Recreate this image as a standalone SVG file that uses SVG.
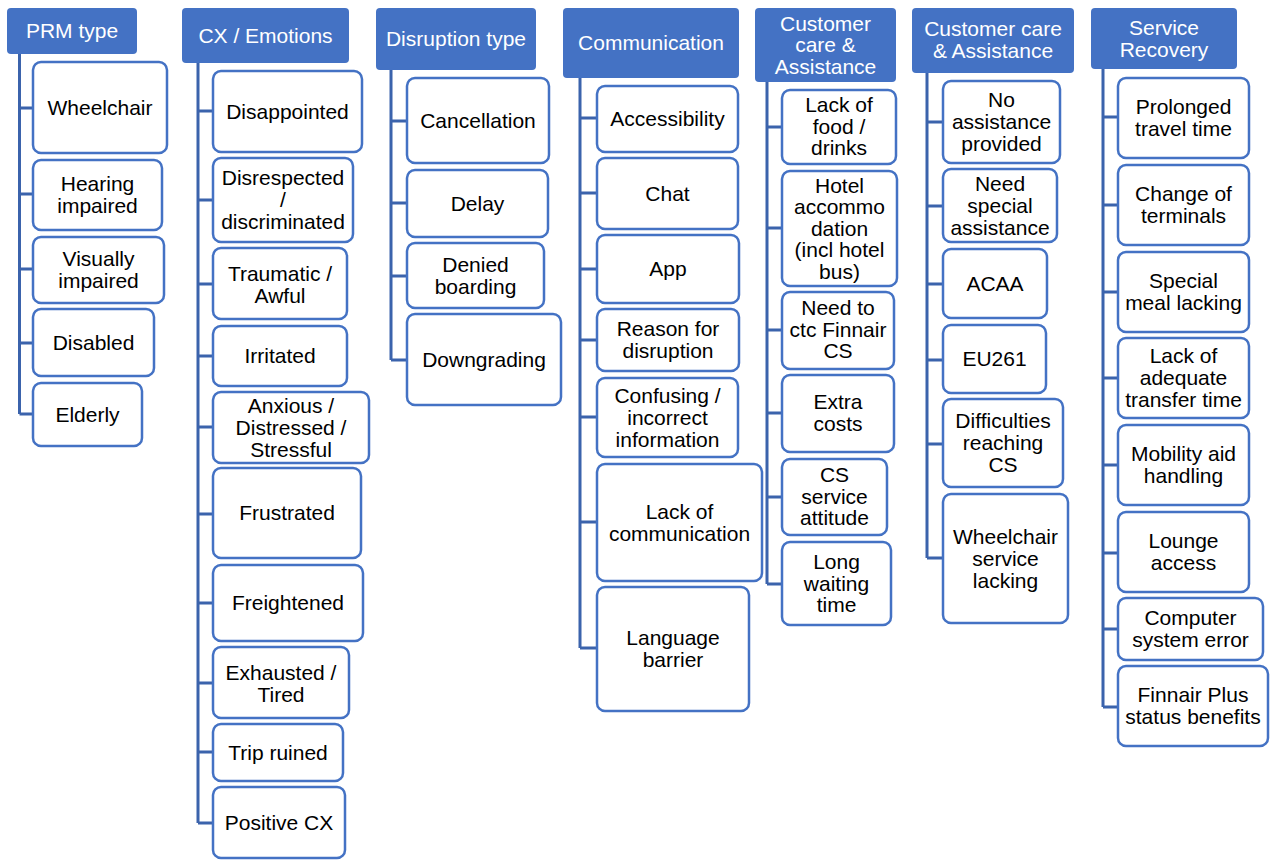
<svg xmlns="http://www.w3.org/2000/svg" width="1271" height="860" viewBox="0 0 1271 860">
<style>
.hd{fill:#4472C4;stroke:none}
.bx{fill:#fff;stroke:#4472C4;stroke-width:2.5}
.ht{fill:#fff;font-family:"Liberation Sans",Arial,sans-serif;font-size:21px;text-anchor:middle}
.t{fill:#000;font-family:"Liberation Sans",Arial,sans-serif;font-size:21px;text-anchor:middle}
.c{fill:none;stroke:#3B63AC;stroke-width:3}
</style>
<rect width="1271" height="860" fill="#fff"/>
<g id="connectors">
<path class="c" d="M19.5,54V414M19.5,108H33M19.5,194H33M19.5,269H33M19.5,343H33M19.5,414H33"/>
<path class="c" d="M198,63V823M198,111H213M198,200H213M198,284H213M198,356H213M198,427H213M198,514H213M198,603H213M198,683H213M198,752H213M198,823H213"/>
<path class="c" d="M391,70V360M391,121H407M391,203H407M391,276H407M391,360H407"/>
<path class="c" d="M580,78V648M580,118H597M580,193H597M580,269H597M580,340H597M580,417H597M580,522H597M580,648H597"/>
<path class="c" d="M767,82V584M767,127H782M767,228H782M767,330H782M767,413H782M767,497H782M767,584H782"/>
<path class="c" d="M927,73V558M927,122H943M927,206H943M927,284H943M927,360H943M927,444H943M927,558H943"/>
<path class="c" d="M1103,69V707M1103,117H1118M1103,205H1118M1103,292H1118M1103,378H1118M1103,465H1118M1103,553H1118M1103,629H1118M1103,707H1118"/>
</g>
<!-- Column 1 -->
<g id="h-prm"><rect class="hd" x="7" y="8" width="130" height="46" rx="4"/><text class="ht" x="72" y="38">PRM type</text></g>
<g id="n-wheelchair"><rect class="bx" x="33" y="62" width="134" height="91" rx="8"/><text class="t" x="100" y="114.5">Wheelchair</text></g>
<g id="n-hearing"><rect class="bx" x="33" y="160" width="129" height="70" rx="8"/><text class="t" x="97.5"><tspan x="97.5" y="191">Hearing</tspan><tspan x="97.5" y="213">impaired</tspan></text></g>
<g id="n-visually"><rect class="bx" x="33" y="237" width="131" height="66" rx="8"/><text class="t" x="98.5"><tspan x="98.5" y="266">Visually</tspan><tspan x="98.5" y="288">impaired</tspan></text></g>
<g id="n-disabled"><rect class="bx" x="33" y="309" width="121" height="67" rx="8"/><text class="t" x="93.5" y="349.5">Disabled</text></g>
<g id="n-elderly"><rect class="bx" x="33" y="383" width="109" height="63" rx="8"/><text class="t" x="87.5" y="421.5">Elderly</text></g>
<!-- Column 2 -->
<g id="h-cx"><rect class="hd" x="182" y="8" width="167" height="55" rx="4"/><text class="ht" x="265.5" y="43">CX / Emotions</text></g>
<g id="n-disappointed"><rect class="bx" x="213" y="71" width="149" height="81" rx="8"/><text class="t" x="287.5" y="118.5">Disappointed</text></g>
<g id="n-disrespected"><rect class="bx" x="213" y="158" width="140" height="84" rx="8"/><text class="t" x="283"><tspan x="283" y="185">Disrespected</tspan><tspan x="283" y="207">/</tspan><tspan x="283" y="229">discriminated</tspan></text></g>
<g id="n-traumatic"><rect class="bx" x="213" y="248" width="134" height="71" rx="8"/><text class="t" x="280"><tspan x="280" y="280.5">Traumatic /</tspan><tspan x="280" y="302.5">Awful</tspan></text></g>
<g id="n-irritated"><rect class="bx" x="213" y="326" width="134" height="60" rx="8"/><text class="t" x="280" y="363">Irritated</text></g>
<g id="n-anxious"><rect class="bx" x="213" y="392" width="156" height="71" rx="8"/><text class="t" x="291"><tspan x="291" y="412.5">Anxious /</tspan><tspan x="291" y="434.5">Distressed /</tspan><tspan x="291" y="456.5">Stressful</tspan></text></g>
<g id="n-frustrated"><rect class="bx" x="213" y="468" width="148" height="90" rx="8"/><text class="t" x="287" y="520">Frustrated</text></g>
<g id="n-freightened"><rect class="bx" x="213" y="565" width="150" height="76" rx="8"/><text class="t" x="288" y="610">Freightened</text></g>
<g id="n-exhausted"><rect class="bx" x="213" y="647" width="136" height="71" rx="8"/><text class="t" x="281"><tspan x="281" y="679.5">Exhausted /</tspan><tspan x="281" y="701.5">Tired</tspan></text></g>
<g id="n-trip"><rect class="bx" x="213" y="724" width="130" height="57" rx="8"/><text class="t" x="278" y="759.5">Trip ruined</text></g>
<g id="n-positive"><rect class="bx" x="213" y="787" width="132" height="71" rx="8"/><text class="t" x="279" y="829.5">Positive CX</text></g>
<!-- Column 3 -->
<g id="h-disruption"><rect class="hd" x="376" y="8" width="160" height="62" rx="4"/><text class="ht" x="456" y="46">Disruption type</text></g>
<g id="n-cancellation"><rect class="bx" x="407" y="78" width="142" height="85" rx="8"/><text class="t" x="478" y="127.5">Cancellation</text></g>
<g id="n-delay"><rect class="bx" x="407" y="170" width="141" height="67" rx="8"/><text class="t" x="477.5" y="210.5">Delay</text></g>
<g id="n-denied"><rect class="bx" x="407" y="243" width="137" height="65" rx="8"/><text class="t" x="475.5"><tspan x="475.5" y="271.5">Denied</tspan><tspan x="475.5" y="293.5">boarding</tspan></text></g>
<g id="n-downgrading"><rect class="bx" x="407" y="314" width="154" height="91" rx="8"/><text class="t" x="484" y="366.5">Downgrading</text></g>
<!-- Column 4 -->
<g id="h-communication"><rect class="hd" x="563" y="8" width="176" height="70" rx="4"/><text class="ht" x="651" y="50">Communication</text></g>
<g id="n-accessibility"><rect class="bx" x="597" y="86" width="141" height="66" rx="8"/><text class="t" x="667.5" y="126">Accessibility</text></g>
<g id="n-chat"><rect class="bx" x="597" y="158" width="141" height="71" rx="8"/><text class="t" x="667.5" y="200.5">Chat</text></g>
<g id="n-app"><rect class="bx" x="597" y="235" width="142" height="68" rx="8"/><text class="t" x="668" y="276">App</text></g>
<g id="n-reason"><rect class="bx" x="597" y="309" width="142" height="62" rx="8"/><text class="t" x="668"><tspan x="668" y="336">Reason for</tspan><tspan x="668" y="358">disruption</tspan></text></g>
<g id="n-confusing"><rect class="bx" x="597" y="378" width="141" height="79" rx="8"/><text class="t" x="667.5"><tspan x="667.5" y="402.5">Confusing /</tspan><tspan x="667.5" y="424.5">incorrect</tspan><tspan x="667.5" y="446.5">information</tspan></text></g>
<g id="n-lackcomm"><rect class="bx" x="597" y="464" width="165" height="117" rx="8"/><text class="t" x="679.5"><tspan x="679.5" y="518.5">Lack of</tspan><tspan x="679.5" y="540.5">communication</tspan></text></g>
<g id="n-language"><rect class="bx" x="597" y="587" width="152" height="124" rx="8"/><text class="t" x="673"><tspan x="673" y="645">Language</tspan><tspan x="673" y="667">barrier</tspan></text></g>
<!-- Column 5 -->
<g id="h-care1"><rect class="hd" x="755" y="8" width="141" height="74" rx="4"/><text class="ht" x="825.5"><tspan x="825.5" y="30.5">Customer</tspan><tspan x="825.5" y="52">care &amp;</tspan><tspan x="825.5" y="73.5">Assistance</tspan></text></g>
<g id="n-food"><rect class="bx" x="782" y="90" width="114" height="74" rx="8"/><text class="t" x="839"><tspan x="839" y="112">Lack of</tspan><tspan x="839" y="133.5">food /</tspan><tspan x="839" y="155">drinks</tspan></text></g>
<g id="n-hotel"><rect class="bx" x="782" y="171" width="115" height="115" rx="8"/><text class="t" x="839.5"><tspan x="839.5" y="192.5">Hotel</tspan><tspan x="839.5" y="214">accommo</tspan><tspan x="839.5" y="235.5">dation</tspan><tspan x="839.5" y="257">(incl hotel</tspan><tspan x="839.5" y="278.5">bus)</tspan></text></g>
<g id="n-ctc"><rect class="bx" x="782" y="292" width="112" height="77" rx="8"/><text class="t" x="838"><tspan x="838" y="315">Need to</tspan><tspan x="838" y="336.5">ctc Finnair</tspan><tspan x="838" y="358">CS</tspan></text></g>
<g id="n-extra"><rect class="bx" x="782" y="375" width="112" height="77" rx="8"/><text class="t" x="838"><tspan x="838" y="409">Extra</tspan><tspan x="838" y="431">costs</tspan></text></g>
<g id="n-attitude"><rect class="bx" x="782" y="459" width="105" height="76" rx="8"/><text class="t" x="834.5"><tspan x="834.5" y="482">CS</tspan><tspan x="834.5" y="503.5">service</tspan><tspan x="834.5" y="525">attitude</tspan></text></g>
<g id="n-waiting"><rect class="bx" x="782" y="542" width="109" height="83" rx="8"/><text class="t" x="836.5"><tspan x="836.5" y="569">Long</tspan><tspan x="836.5" y="590.5">waiting</tspan><tspan x="836.5" y="612">time</tspan></text></g>
<!-- Column 6 -->
<g id="h-care2"><rect class="hd" x="912" y="8" width="162" height="65" rx="4"/><text class="ht" x="993"><tspan x="993" y="36">Customer care</tspan><tspan x="993" y="58">&amp; Assistance</tspan></text></g>
<g id="n-noassist"><rect class="bx" x="943" y="81" width="117" height="82" rx="8"/><text class="t" x="1001.5"><tspan x="1001.5" y="107">No</tspan><tspan x="1001.5" y="129">assistance</tspan><tspan x="1001.5" y="151">provided</tspan></text></g>
<g id="n-special"><rect class="bx" x="943" y="169" width="114" height="73" rx="8"/><text class="t" x="1000"><tspan x="1000" y="190.5">Need</tspan><tspan x="1000" y="212.5">special</tspan><tspan x="1000" y="234.5">assistance</tspan></text></g>
<g id="n-acaa"><rect class="bx" x="943" y="249" width="104" height="69" rx="8"/><text class="t" x="995" y="290.5">ACAA</text></g>
<g id="n-eu261"><rect class="bx" x="943" y="325" width="103" height="68" rx="8"/><text class="t" x="994.5" y="366">EU261</text></g>
<g id="n-difficulties"><rect class="bx" x="943" y="399" width="120" height="88" rx="8"/><text class="t" x="1003"><tspan x="1003" y="428">Difficulties</tspan><tspan x="1003" y="450">reaching</tspan><tspan x="1003" y="472">CS</tspan></text></g>
<g id="n-wcservice"><rect class="bx" x="943" y="494" width="125" height="129" rx="8"/><text class="t" x="1005.5"><tspan x="1005.5" y="543.5">Wheelchair</tspan><tspan x="1005.5" y="565.5">service</tspan><tspan x="1005.5" y="587.5">lacking</tspan></text></g>
<!-- Column 7 -->
<g id="h-recovery"><rect class="hd" x="1091" y="8" width="146" height="61" rx="4"/><text class="ht" x="1164"><tspan x="1164" y="34.5">Service</tspan><tspan x="1164" y="56.5">Recovery</tspan></text></g>
<g id="n-prolonged"><rect class="bx" x="1118" y="78" width="131" height="80" rx="8"/><text class="t" x="1183.5"><tspan x="1183.5" y="114">Prolonged</tspan><tspan x="1183.5" y="136">travel time</tspan></text></g>
<g id="n-terminals"><rect class="bx" x="1118" y="165" width="131" height="80" rx="8"/><text class="t" x="1183.5"><tspan x="1183.5" y="201">Change of</tspan><tspan x="1183.5" y="223">terminals</tspan></text></g>
<g id="n-meal"><rect class="bx" x="1118" y="252" width="131" height="80" rx="8"/><text class="t" x="1183.5"><tspan x="1183.5" y="288">Special</tspan><tspan x="1183.5" y="310">meal lacking</tspan></text></g>
<g id="n-transfer"><rect class="bx" x="1118" y="338" width="131" height="80" rx="8"/><text class="t" x="1183.5"><tspan x="1183.5" y="363">Lack of</tspan><tspan x="1183.5" y="385">adequate</tspan><tspan x="1183.5" y="407">transfer time</tspan></text></g>
<g id="n-mobility"><rect class="bx" x="1118" y="425" width="131" height="80" rx="8"/><text class="t" x="1183.5"><tspan x="1183.5" y="461">Mobility aid</tspan><tspan x="1183.5" y="483">handling</tspan></text></g>
<g id="n-lounge"><rect class="bx" x="1118" y="512" width="131" height="80" rx="8"/><text class="t" x="1183.5"><tspan x="1183.5" y="548">Lounge</tspan><tspan x="1183.5" y="570">access</tspan></text></g>
<g id="n-computer"><rect class="bx" x="1118" y="598" width="145" height="62" rx="8"/><text class="t" x="1190.5"><tspan x="1190.5" y="625">Computer</tspan><tspan x="1190.5" y="647">system error</tspan></text></g>
<g id="n-finnair"><rect class="bx" x="1118" y="666" width="150" height="80" rx="8"/><text class="t" x="1193"><tspan x="1193" y="702">Finnair Plus</tspan><tspan x="1193" y="724">status benefits</tspan></text></g>
</svg>
